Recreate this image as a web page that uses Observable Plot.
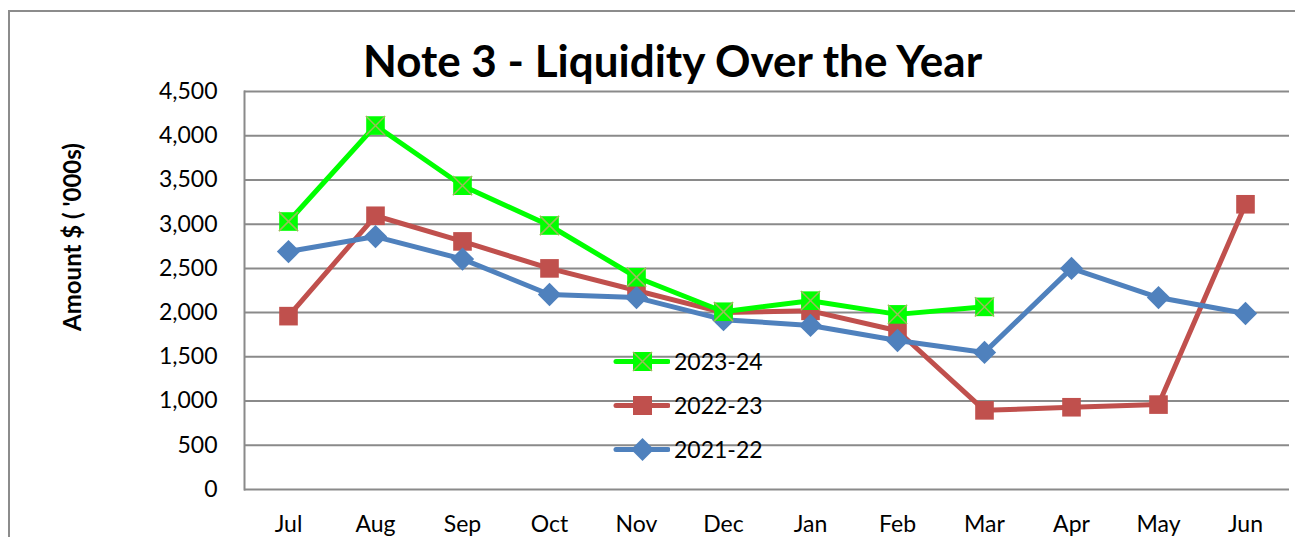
<!DOCTYPE html>
<html>
<head>
<meta charset="utf-8">
<script src="https://cdn.jsdelivr.net/npm/d3@7"></script>
<script src="https://cdn.jsdelivr.net/npm/@observablehq/plot@0.6"></script>
<style>
  html, body { margin: 0; padding: 0; background: #fff; }
  html { overflow: hidden; }
  body { width: 1295px; height: 537px; overflow: hidden; position: relative; font-family: Lato, "Open Sans", sans-serif; }
  #frame { position: absolute; left: 8px; top: 10px; width: 1400px; height: 700px; border-left: 2px solid #8c8c8c; border-top: 2px solid #8c8c8c; box-sizing: border-box; }
  #title { position: relative; height: 80px; font-weight: bold; font-size: 44px; line-height: 1; }
  #title span { position: absolute; left: 0; right: 0; top: 38px; text-align: center; padding-left: 50px; white-space: nowrap; }
  #chart { position: relative; }
  #ylabel { position: absolute; left: 71px; top: 237px; transform: translate(-50%, -50%) rotate(-90deg); font-weight: bold; font-size: 24px; white-space: nowrap; }
  #legend { position: absolute; left: 609px; top: 339px; font-size: 23px; }
  #legend .item { display: flex; align-items: center; height: 44px; }
  #legend svg { margin-right: 4px; }
</style>
</head>
<body>
<div id="frame"></div>
<div id="title"><span>Note 3 - Liquidity Over the Year</span></div>
<div id="chart"></div>
<div id="ylabel">Amount $ ( '000s)</div>
<div id="legend"></div>
<script>
const months = ["Jul","Aug","Sep","Oct","Nov","Dec","Jan","Feb","Mar","Apr","May","Jun"];
const fy2324 = [3030, 4115, 3435, 2985, 2400, 2010, 2135, 1980, 2065];
const fy2223 = [1960, 3095, 2805, 2500, 2250, 2000, 2020, 1795, 895, 930, 960, 3225];
const fy2122 = [2690, 2860, 2605, 2205, 2170, 1920, 1855, 1685, 1550, 2500, 2170, 1990];
const yTicks = [0, 500, 1000, 1500, 2000, 2500, 3000, 3500, 4000, 4500];
const seriesNames = ["2023-24", "2022-23", "2021-22"];
const colors = {"2023-24": "#00ff00", "2022-23": "#c0504d", "2021-22": "#4f81bd"};
const crossColor = "#9bbb59";

const rows = (name, vals) => vals.map((v, i) => ({series: name, month: months[i], value: v}));
const d2324 = rows("2023-24", fy2324);
const d2223 = rows("2022-23", fy2223);
const d2122 = rows("2021-22", fy2122);

const grid = "#8a8a8a";
const plot = Plot.plot({
  width: 1295,
  height: 457,
  marginTop: 11,
  marginBottom: 48,
  marginLeft: 244,
  marginRight: 6,
  style: {fontFamily: "Lato, 'Open Sans', sans-serif", fontSize: "23px", color: "#000", background: "transparent", overflow: "visible"},
  x: {type: "point", domain: months, padding: 0.5},
  y: {domain: [0, 4500]},
  marks: [
    Plot.ruleY(yTicks, {stroke: grid, strokeWidth: 2}),
    Plot.frame({anchor: "left", stroke: grid, strokeWidth: 2}),
    Plot.axisY({ticks: yTicks, tickFormat: d3.format(","), tickSize: 0, tickPadding: 27, label: null, fontSize: 23}),
    Plot.axisX({tickSize: 0, tickPadding: 26, label: null, fontSize: 23}),
    Plot.line(d2223, {x: "month", y: "value", stroke: colors["2022-23"], strokeWidth: 5}),
    Plot.dot(d2223, {x: "month", y: "value", symbol: "square", r: 10.5, fill: colors["2022-23"], stroke: "none"}),
    Plot.line(d2122, {x: "month", y: "value", stroke: colors["2021-22"], strokeWidth: 5}),
    Plot.dot(d2122, {x: "month", y: "value", symbol: "diamond2", r: 10.5, fill: colors["2021-22"], stroke: "none"}),
    Plot.line(d2324, {x: "month", y: "value", stroke: colors["2023-24"], strokeWidth: 5}),
    Plot.dot(d2324, {x: "month", y: "value", symbol: "square", r: 10.5, fill: colors["2023-24"], stroke: "none"}),
    Plot.dot(d2324, {x: "month", y: "value", symbol: "times", r: 8.8, stroke: crossColor, strokeWidth: 1.5})
  ]
});
document.getElementById("chart").appendChild(plot);

// legend
const legend = document.getElementById("legend");
const shapes = {
  "2023-24": `<rect x="24" y="5" width="19" height="19" fill="${colors["2023-24"]}"/><path d="M24,5L43,24M43,5L24,24" stroke="${crossColor}" stroke-width="1.5"/>`,
  "2022-23": `<rect x="24" y="5" width="19" height="19" fill="${colors["2022-23"]}"/>`,
  "2021-22": `<path d="M33.5,3L45,14.5L33.5,26L22,14.5Z" fill="${colors["2021-22"]}"/>`
};
for (const name of seriesNames) {
  const item = document.createElement("div");
  item.className = "item";
  item.innerHTML = `<svg width="61" height="29"><line x1="7" x2="59" y1="14.5" y2="14.5" stroke="${colors[name]}" stroke-width="5" stroke-linecap="round"/>${shapes[name]}</svg><span>${name}</span>`;
  legend.appendChild(item);
}
</script>
</body>
</html>
